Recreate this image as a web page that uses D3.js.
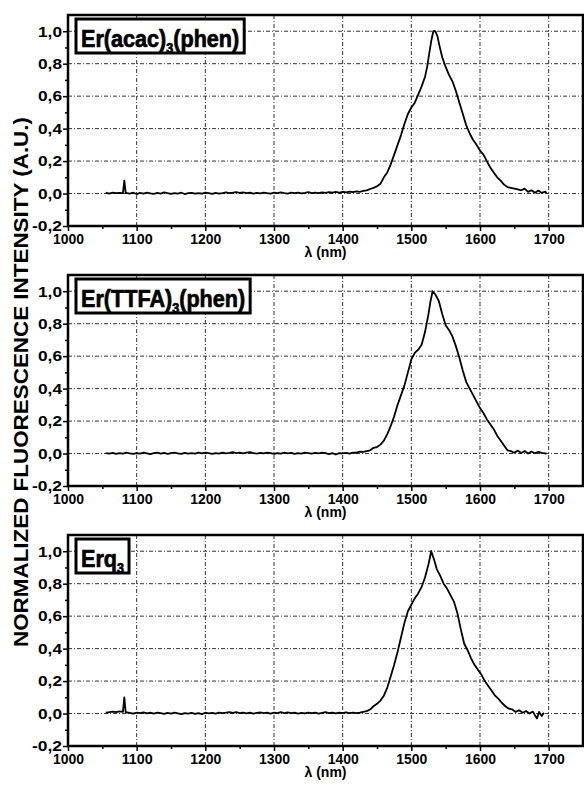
<!DOCTYPE html>
<html>
<head>
<meta charset="utf-8">
<script src="https://cdn.jsdelivr.net/npm/d3@7"></script>
<style>
  body { margin: 0; background: #fff; }
  svg { display: block; }
  text { font-family: 'Liberation Sans', Arial, sans-serif; font-weight: bold; }
</style>
</head>
<body>
<svg id="chart" width="584" height="785"></svg>
<script>
// panel names (subscript part kept separately)
const panelNames = [
  ["Er(acac)", "3", "(phen)"],
  ["Er(TTFA)", "3", "(phen)"],
  ["Erq", "3", ""]
];

const xTicks = [1000, 1100, 1200, 1300, 1400, 1500, 1600, 1700];
const yTicks = [-0.2, 0.0, 0.2, 0.4, 0.6, 0.8, 1.0];

// Er(acac)3(phen) spectrum, [wavelength nm, normalized intensity]
const acacSpectrum = [
  [1055,0.005],[1060,0.0],[1065,0.006],[1070,0.002],[1075,0.004],[1080,0.003],[1082,0.08],[1084,0.004],
  [1090,0.0],[1095,0.005],[1100,-0.003],[1105,0.004],[1110,0.0],[1115,0.006],[1120,0.001],[1125,-0.002],
  [1130,0.004],[1135,0.0],[1140,0.007],[1145,0.002],[1150,-0.002],[1155,0.003],[1160,0.0],[1165,0.005],
  [1170,-0.003],[1175,0.002],[1180,0.004],[1185,-0.001],[1190,0.003],[1195,0.0],[1200,0.006],[1205,0.002],
  [1210,-0.002],[1215,0.004],[1220,0.0],[1225,0.003],[1230,0.007],[1235,0.002],[1240,0.005],[1245,0.009],
  [1250,0.004],[1255,0.007],[1260,0.002],[1265,0.005],[1270,0.0],[1275,0.004],[1280,0.001],[1285,0.006],
  [1290,0.002],[1295,-0.001],[1300,0.005],[1305,0.002],[1310,0.007],[1315,0.003],[1320,0.0],[1325,0.005],
  [1330,0.002],[1335,0.006],[1340,0.001],[1345,0.004],[1350,0.008],[1355,0.003],[1360,0.006],[1365,0.002],
  [1370,0.007],[1375,0.004],[1380,0.009],[1385,0.005],[1390,0.01],[1395,0.006],[1400,0.011],[1405,0.007],
  [1410,0.012],[1415,0.008],[1420,0.013],[1425,0.01],[1430,0.016],[1435,0.02],[1440,0.028],[1445,0.035],
  [1450,0.045],[1455,0.06],[1460,0.1],[1465,0.13],[1470,0.18],[1475,0.24],[1480,0.3],[1485,0.36],
  [1490,0.43],[1495,0.49],[1500,0.53],[1505,0.56],[1510,0.61],[1515,0.66],[1520,0.72],[1523,0.78],
  [1526,0.86],[1529,0.94],[1532,1.0],[1535,1.0],[1538,0.97],[1541,0.91],[1545,0.84],[1550,0.78],
  [1555,0.73],[1560,0.69],[1565,0.63],[1570,0.56],[1575,0.49],[1580,0.42],[1585,0.37],[1590,0.33],
  [1595,0.3],[1600,0.265],[1605,0.24],[1610,0.2],[1615,0.16],[1620,0.13],[1625,0.1],[1630,0.08],
  [1635,0.055],[1640,0.04],[1645,0.035],[1650,0.03],[1655,0.025],[1660,0.02],[1665,0.03],[1670,0.01],
  [1675,0.02],[1680,0.005],[1685,0.018],[1690,0.004],[1695,0.012],[1697,0.0]
];

// Er(TTFA)3(phen) spectrum
const ttfaSpectrum = [
  [1055,0.002],[1060,0.0],[1065,0.004],[1070,-0.002],[1075,0.003],[1080,0.0],[1085,0.005],[1090,0.001],
  [1095,-0.002],[1100,0.003],[1105,0.0],[1110,0.005],[1115,0.001],[1120,-0.003],[1125,0.002],[1130,0.005],
  [1135,0.0],[1140,0.004],[1145,-0.002],[1150,0.002],[1155,0.006],[1160,0.001],[1165,-0.002],[1170,0.004],
  [1175,0.0],[1180,0.003],[1185,-0.001],[1190,0.005],[1195,0.001],[1200,0.006],[1205,0.002],[1210,-0.002],
  [1215,0.003],[1220,0.0],[1225,0.005],[1230,0.001],[1235,0.004],[1240,0.008],[1245,0.003],[1250,0.006],
  [1255,0.001],[1260,0.005],[1265,0.009],[1270,0.003],[1275,0.0],[1280,0.004],[1285,0.001],[1290,0.006],
  [1295,0.002],[1300,-0.002],[1305,0.003],[1310,0.0],[1315,0.005],[1320,0.001],[1325,0.004],[1330,-0.002],
  [1335,0.003],[1340,0.0],[1345,0.005],[1350,0.002],[1355,-0.001],[1360,0.004],[1365,0.001],[1370,0.006],
  [1375,0.002],[1380,-0.003],[1385,0.002],[1390,-0.006],[1395,0.003],[1400,0.001],[1405,0.004],[1410,0.0],
  [1415,0.006],[1420,0.005],[1425,0.012],[1430,0.01],[1435,0.015],[1440,0.02],[1445,0.035],[1450,0.04],
  [1455,0.055],[1460,0.08],[1465,0.12],[1470,0.17],[1475,0.23],[1480,0.3],[1485,0.36],[1490,0.42],
  [1495,0.5],[1500,0.58],[1505,0.62],[1510,0.64],[1515,0.67],[1520,0.75],[1525,0.86],[1528,0.94],
  [1531,1.0],[1535,0.98],[1540,0.94],[1545,0.86],[1550,0.79],[1555,0.76],[1560,0.72],[1565,0.66],
  [1570,0.59],[1575,0.51],[1580,0.44],[1585,0.4],[1590,0.36],[1595,0.32],[1600,0.28],[1605,0.25],
  [1610,0.21],[1615,0.18],[1620,0.15],[1625,0.11],[1630,0.08],[1635,0.05],[1640,0.02],[1645,0.015],
  [1650,0.005],[1655,0.018],[1660,0.003],[1665,0.015],[1670,0.0],[1675,0.012],[1680,0.002],[1685,0.01],
  [1690,0.004],[1697,0.0]
];

// Erq3 spectrum
const erqSpectrum = [
  [1055,0.005],[1060,0.008],[1065,0.012],[1070,0.009],[1075,0.013],[1080,0.01],[1082,0.1],[1084,0.008],
  [1090,0.004],[1095,0.0],[1100,0.006],[1105,0.002],[1110,0.007],[1115,0.001],[1120,0.005],[1125,0.0],
  [1130,0.006],[1135,0.002],[1140,-0.002],[1145,0.004],[1150,0.0],[1155,0.005],[1160,0.001],[1165,-0.003],
  [1170,0.003],[1175,0.0],[1180,0.004],[1185,-0.002],[1190,0.003],[1195,-0.004],[1200,0.005],[1205,0.001],
  [1210,0.004],[1215,0.0],[1220,0.006],[1225,0.002],[1230,0.005],[1235,0.009],[1240,0.004],[1245,0.008],
  [1250,0.003],[1255,0.006],[1260,0.001],[1265,0.005],[1270,0.0],[1275,0.004],[1280,0.007],[1285,0.002],
  [1290,0.005],[1295,0.0],[1300,0.006],[1305,0.002],[1310,0.008],[1315,0.003],[1320,0.007],[1325,0.002],
  [1330,0.005],[1335,0.0],[1340,0.004],[1345,0.001],[1350,0.006],[1355,0.002],[1360,0.005],[1365,0.0],
  [1370,0.004],[1375,0.008],[1380,0.002],[1385,0.006],[1390,0.001],[1395,0.005],[1400,0.002],[1405,0.007],
  [1410,0.003],[1415,0.006],[1420,0.002],[1425,0.005],[1430,0.01],[1435,0.015],[1440,0.025],[1445,0.045],
  [1450,0.06],[1455,0.08],[1460,0.11],[1465,0.16],[1470,0.23],[1475,0.3],[1480,0.38],[1485,0.47],
  [1490,0.56],[1495,0.63],[1500,0.67],[1505,0.71],[1510,0.74],[1515,0.78],[1520,0.84],[1525,0.92],
  [1529,1.0],[1533,0.95],[1537,0.89],[1542,0.85],[1547,0.8],[1552,0.77],[1557,0.73],[1562,0.69],
  [1567,0.62],[1572,0.52],[1577,0.43],[1582,0.39],[1587,0.34],[1592,0.3],[1597,0.27],[1602,0.24],
  [1607,0.2],[1612,0.17],[1617,0.14],[1622,0.11],[1627,0.09],[1632,0.065],[1637,0.045],[1642,0.03],
  [1647,0.025],[1652,0.01],[1657,0.02],[1662,0.005],[1667,0.015],[1672,0.0],[1677,0.012],[1680,-0.01],
  [1683,-0.03],[1686,0.01],[1690,-0.015],[1693,0.005]
];

const spectra = [acacSpectrum, ttfaSpectrum, erqSpectrum];

const svg = d3.select("#chart");
const left = 68, right = 583;
const panelTops = [15, 275, 535];
const panelH = 211;

const x = d3.scaleLinear().domain([1000, 1750]).range([left, right]);
const fmt = v => d3.format(".1f")(v).replace(".", ",").replace("−", "-");

panelTops.forEach((top, i) => {
  const y = d3.scaleLinear().domain([-0.2, 1.1]).range([top + panelH, top]);
  const g = svg.append("g");

  // dashed grid
  g.selectAll(".vgrid").data(xTicks.slice(1)).enter().append("line")
    .attr("x1", d => x(d)).attr("x2", d => x(d))
    .attr("y1", top).attr("y2", top + panelH)
    .attr("stroke", "#333").attr("stroke-width", 1)
    .attr("stroke-dasharray", "4,2,1,2");
  g.selectAll(".hgrid").data(yTicks.slice(1)).enter().append("line")
    .attr("x1", left).attr("x2", right)
    .attr("y1", d => y(d)).attr("y2", d => y(d))
    .attr("stroke", "#333").attr("stroke-width", 1)
    .attr("stroke-dasharray", "4,2,1,2");

  // spectrum
  const line = d3.line().x(d => x(d[0])).y(d => y(d[1]));
  g.append("path")
    .datum(spectra[i])
    .attr("d", line)
    .attr("fill", "none")
    .attr("stroke", "#000")
    .attr("stroke-width", 1.8)
    .attr("stroke-linejoin", "round");

  // axes
  const xAxis = g.append("g")
    .attr("transform", `translate(0,${top + panelH})`)
    .call(d3.axisBottom(x).tickValues(xTicks).tickSize(5).tickSizeOuter(0).tickFormat(d3.format("d")));
  xAxis.selectAll("text")
    .attr("font-size", 15).attr("fill", "#000")
    .attr("y", 7)
    .attr("textLength", 31).attr("lengthAdjust", "spacingAndGlyphs");
  g.append("g")
    .attr("transform", `translate(0,${top + panelH})`)
    .call(d3.axisBottom(x).tickValues(d3.range(1050, 1750, 100)).tickSize(3).tickFormat(""))
    .select(".domain").remove();

  const yAxis = g.append("g")
    .attr("transform", `translate(${left},0)`)
    .call(d3.axisLeft(y).tickValues(yTicks).tickSize(5).tickSizeOuter(0).tickPadding(1).tickFormat(fmt));
  yAxis.selectAll("text")
    .attr("font-size", 15).attr("fill", "#000")
    .attr("textLength", d => d < 0 ? 30 : 24).attr("lengthAdjust", "spacingAndGlyphs");
  g.append("g")
    .attr("transform", `translate(${left},0)`)
    .call(d3.axisLeft(y).tickValues([-0.1, 0.1, 0.3, 0.5, 0.7, 0.9]).tickSize(3).tickFormat(""))
    .select(".domain").remove();

  g.selectAll(".tick line").attr("stroke", "#000").attr("stroke-width", 1.5);
  g.selectAll(".domain").remove();

  // frame
  g.append("rect")
    .attr("x", left).attr("y", top)
    .attr("width", right - left).attr("height", panelH)
    .attr("fill", "none").attr("stroke", "#000").attr("stroke-width", 2.5);

  // x label
  g.append("text")
    .attr("x", (left + right) / 2).attr("y", top + panelH + 31)
    .attr("text-anchor", "middle").attr("font-size", 14)
    .text("λ (nm)");

  // panel label box, text condensed a little like the original
  const name = panelNames[i];
  const lg = g.append("g").attr("transform", `translate(${left + 13},${top + 32}) scale(0.9,1)`);
  const lab = lg.append("text")
    .attr("x", 0).attr("y", 0)
    .attr("font-size", 24).attr("font-weight", "normal")
    .attr("stroke", "#000").attr("stroke-width", 0.7);
  lab.append("tspan").text(name[0]);
  lab.append("tspan").attr("font-size", 14).attr("dy", 6).text(name[1]);
  lab.append("tspan").attr("dy", -6).text(name[2]);
  const bb = lab.node().getBBox();
  const w = bb.width * 0.9;
  g.insert("rect", () => lg.node())
    .attr("x", left + 8).attr("y", top + 4)
    .attr("width", w + 10).attr("height", 34)
    .attr("fill", "#fff").attr("stroke", "#000").attr("stroke-width", 3);
});

// shared y label
svg.append("text")
  .attr("transform", "translate(28,382) rotate(-90)")
  .attr("text-anchor", "middle")
  .attr("font-size", 21)
  .attr("textLength", 530)
  .attr("lengthAdjust", "spacingAndGlyphs")
  .text("NORMALIZED FLUORESCENCE INTENSITY (A.U.)");
</script>
</body>
</html>
